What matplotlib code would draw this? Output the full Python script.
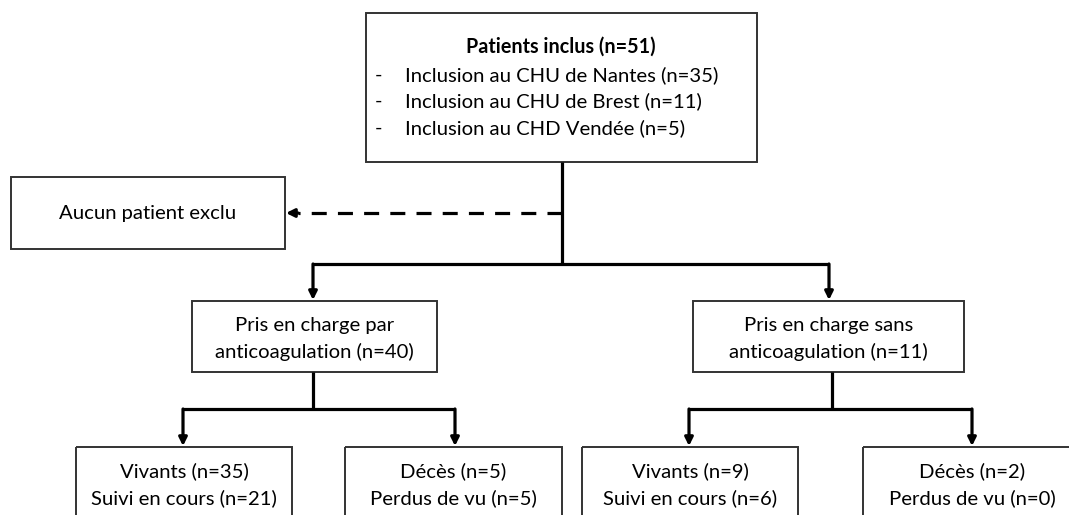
import matplotlib.pyplot as plt
from matplotlib.patches import Rectangle

# texts of the flowchart
title_text = "Patients inclus (n=51)"
inclusion_lines = [
    "Inclusion au CHU de Nantes (n=35)",
    "Inclusion au CHU de Brest (n=11)",
    "Inclusion au CHD Vendée (n=5)",
]
excluded_text = "Aucun patient exclu"
group_texts = [
    "Pris en charge par\nanticoagulation (n=40)",
    "Pris en charge sans\nanticoagulation (n=11)",
]
outcome_texts = [
    "Vivants (n=35)\nSuivi en cours (n=21)",
    "Décès (n=5)\nPerdus de vu (n=5)",
    "Vivants (n=9)\nSuivi en cours (n=6)",
    "Décès (n=2)\nPerdus de vu (n=0)",
]

# layout in pixels (x0, y0, x1, y1), y pointing down
top_box = (366, 13, 757, 162)
excl_box = (11, 177, 285, 249)
group_boxes = [(192, 301, 437, 372), (693, 301, 964, 372)]
outcome_boxes = [(76, 447, 292, 540), (345, 447, 562, 540),
                 (582, 447, 798, 540), (863, 447, 1085, 540)]

FONT = "Lato"
FS = 14.6
EDGE = "#333333"
LW = 2.3

fig = plt.figure(figsize=(10.69, 5.15), dpi=100)
ax = fig.add_axes([0, 0, 1, 1])
ax.set_xlim(0, 1069)
ax.set_ylim(515, 0)
ax.axis("off")


def box(b):
    x0, y0, x1, y1 = b
    ax.add_patch(Rectangle((x0, y0), x1 - x0, y1 - y0, fill=False,
                           edgecolor=EDGE, lw=1.4))


def arrow(x0, y0, x1, y1):
    ax.annotate("", xy=(x1, y1), xytext=(x0, y0),
                arrowprops=dict(arrowstyle="-|>", color="black", lw=LW,
                                mutation_scale=12, shrinkA=0, shrinkB=0))


def line(xs, ys):
    ax.plot(xs, ys, color="black", lw=LW, solid_capstyle="butt",
            solid_joinstyle="miter")


# top box
box(top_box)
ax.text(561, 47, title_text, ha="center", va="center", fontsize=FS - 0.4,
        fontweight="bold", family=FONT)
for i, t in enumerate(inclusion_lines):
    y = 75 + i * 26.5
    ax.text(378, y, "-", ha="center", va="center", fontsize=FS, family=FONT)
    ax.text(405, y, t, ha="left", va="center", fontsize=FS, family=FONT)

# exclusion box with dashed arrow
box(excl_box)
ax.text((excl_box[0] + excl_box[2]) / 2, 213, excluded_text, ha="center",
        va="center", fontsize=FS, family=FONT)
ax.plot([562, 298], [213, 213], color="black", lw=LW, dashes=(4.7, 3.5))
arrow(298, 213, 286, 213)

# trunk and first split
line([562, 562], [162, 264])
line([313, 829], [264, 264])
arrow(313, 264, 313, 300)
arrow(829, 264, 829, 300)

for b, t in zip(group_boxes, group_texts):
    box(b)
    ax.text((b[0] + b[2]) / 2, 339, t, ha="center",
            va="center", fontsize=FS, family=FONT, linespacing=1.6)

# second splits
line([313, 313], [372, 409])
line([183, 455], [409, 409])
arrow(183, 409, 183, 446)
arrow(455, 409, 455, 446)

line([832, 832], [372, 409])
line([689, 972], [409, 409])
arrow(689, 409, 689, 446)
arrow(972, 409, 972, 446)

for b, t in zip(outcome_boxes, outcome_texts):
    box(b)
    cx = (b[0] + b[2]) / 2 if b[2] < 1069 else 972
    ax.text(cx, 485, t, ha="center", va="center", fontsize=FS,
            family=FONT, linespacing=1.6)

fig.savefig("out.png", dpi=100)
